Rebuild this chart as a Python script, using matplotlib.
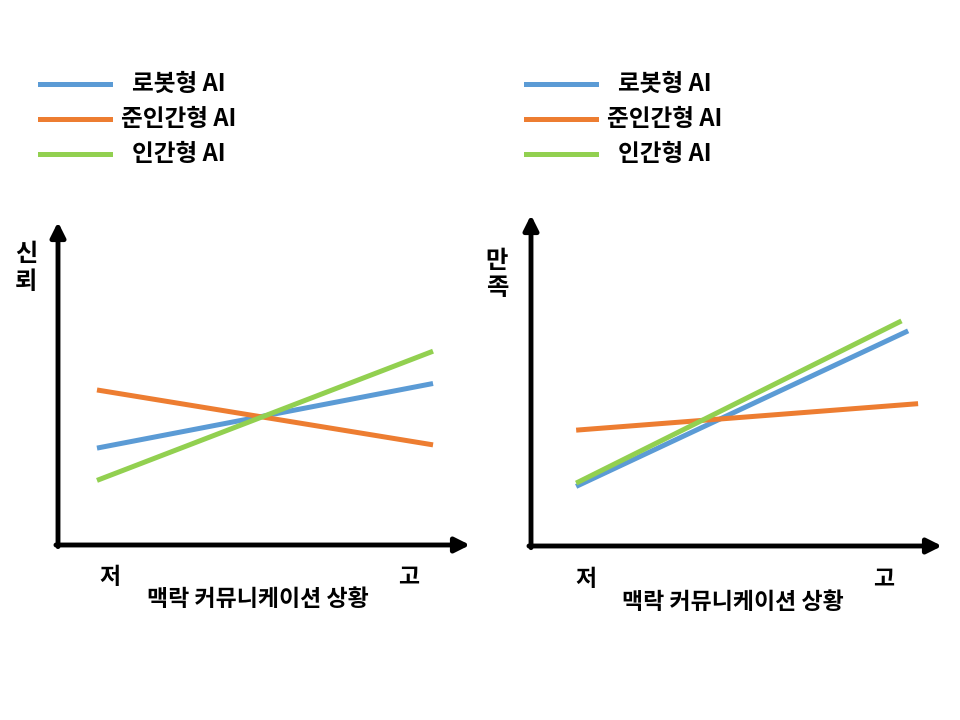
import matplotlib.pyplot as plt
from matplotlib.lines import Line2D

plt.rcParams['font.family'] = ['Noto Sans CJK KR', 'DejaVu Sans']
plt.rcParams['font.weight'] = 'bold'

series = ['로봇형 AI', '준인간형 AI', '인간형 AI']
colors = ['#5B9BD5', '#ED7D31', '#92D050']
levels = ['저', '고']
xlabel = '맥락 커뮤니케이션 상황'

# panel 1: 신뢰
trust_x = [[0, 1], [0, 1], [0, 1]]
trust_y = [[3.0, 5.0], [4.8, 3.1], [2.0, 6.0]]

# panel 2: 만족
satis_x = [[0, 1.0], [0, 1.03], [0, 0.98]]
satis_y = [[1.8, 6.5], [3.5, 4.3], [1.9, 6.8]]

W, H = 960, 720
fig = plt.figure(figsize=(9.6, 7.2), dpi=100)


def panel(box, xs, ys, ylab, xlim, tick_pos, lab_x, ylab_pos, legend_px):
    l, r, b, t = box
    ax = fig.add_axes([l / W, 1 - b / H, (r - l) / W, (b - t) / H])
    for x, y, c in zip(xs, ys, colors):
        ax.plot(x, y, color=c, lw=3.6, solid_capstyle='butt')
    ax.set_xlim(*xlim)
    ax.set_ylim(0, 10)
    ax.axis('off')
    arrow = dict(arrowstyle='-|>', lw=3.5, color='black', mutation_scale=22,
                 shrinkA=0, shrinkB=0)
    ax.annotate('', xy=(1, 0), xytext=(-0.005, 0), xycoords='axes fraction', arrowprops=arrow)
    ax.annotate('', xy=(0, 1), xytext=(0, -0.005), xycoords='axes fraction', arrowprops=arrow)
    for pos, lab in zip(tick_pos, levels):
        ax.text(pos, -0.10, lab, transform=ax.transAxes, ha='center', va='center', fontsize=16.5)
    ax.text(lab_x, -0.17, xlabel, transform=ax.transAxes, ha='center', va='center', fontsize=16.5)
    ax.text(ylab_pos[0], ylab_pos[1], '\n'.join(ylab), transform=ax.transAxes,
            ha='center', va='center', fontsize=17.5, linespacing=1.2)

    # legend drawn by hand
    lx0, lx1, tx, ly0 = legend_px
    for i, (name, c) in enumerate(zip(series, colors)):
        y = 1 - (ly0 + i * 35) / H
        fig.add_artist(Line2D([lx0 / W, lx1 / W], [y, y], color=c, lw=3.6))
        fig.text(tx / W, y, name, ha='center', va='center', fontsize=17)
    return ax


panel((58, 470, 545, 222), trust_x, trust_y, '신뢰', (-0.116, 1.110),
      [0.126, 0.85], 0.485, (-0.078, 0.857), (40, 110, 179, 84))
panel((531, 942, 546, 215), satis_x, satis_y, '만족', (-0.136, 1.102),
      [0.134, 0.859], 0.491, (-0.083, 0.82), (526, 596, 665, 84))

fig.savefig('out.png', dpi=100, facecolor='white')
